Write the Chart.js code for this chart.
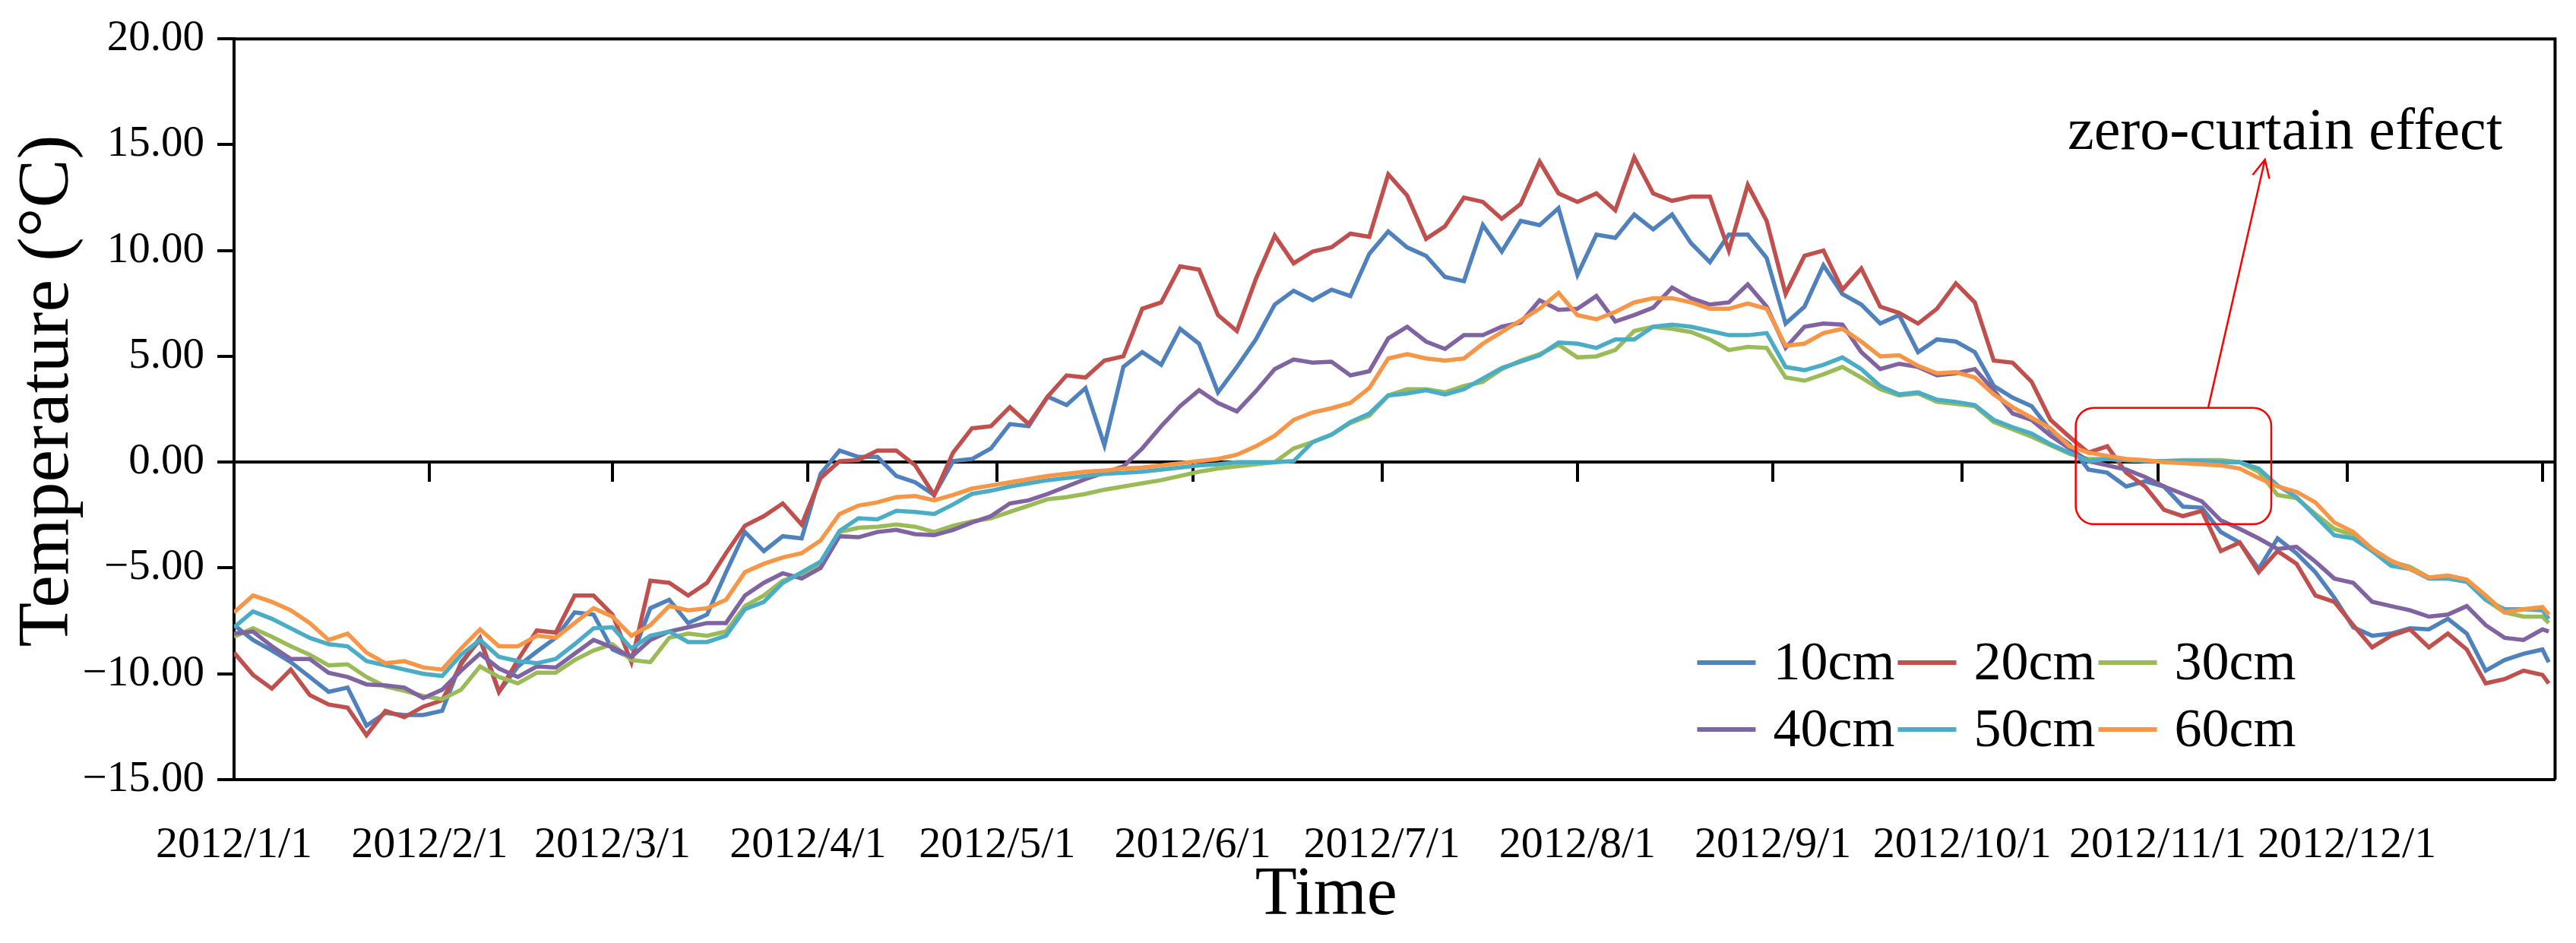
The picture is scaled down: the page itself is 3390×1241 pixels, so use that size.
<!DOCTYPE html>
<html>
<head>
<meta charset="utf-8">
<script src="https://cdn.jsdelivr.net/npm/chart.js@4.4.1/dist/chart.umd.min.js"></script>
<style>
  body { margin: 0; background: #fff; }
  canvas { display: block; }
</style>
</head>
<body>
<canvas id="chartCanvas" width="3390" height="1241"></canvas>
<script>
// day offsets from 2012/1/1 (sampled every 3 days)
const days = [
  0, 3, 6, 9, 12, 15, 18, 21, 24, 27, 30, 33, 36, 39, 42, 45, 48, 51, 54, 57, 60, 63, 66, 69, 72,
  75, 78, 81, 84, 87, 90, 93, 96, 99, 102, 105, 108, 111, 114, 117, 120, 123, 126, 129, 132, 135, 138, 141, 144,
  147, 150, 153, 156, 159, 162, 165, 168, 171, 174, 177, 180, 183, 186, 189, 192, 195, 198, 201, 204, 207, 210, 213, 216, 219,
  222, 225, 228, 231, 234, 237, 240, 243, 246, 249, 252, 255, 258, 261, 264, 267, 270, 273, 276, 279, 282, 285, 288, 291,
  294, 297, 300, 303, 306, 309, 312, 315, 318, 321, 324, 327, 330, 333, 336, 339, 342, 345, 348, 351, 354, 357, 360, 363, 366, 367
];

const t10cm = [
  -7.7, -8.4, -8.9, -9.45, -10.15, -10.85, -10.65, -12.45, -11.85, -11.95, -11.95, -11.75, -9.45, -8.4, -10.85, -9.65, -8.95, -8.3, -7.1, -7.2, -8.85, -9.25, -6.9, -6.5, -7.6,
  -7.2, -5.2, -3.3, -4.2, -3.5, -3.6, -0.55, 0.55, 0.25, 0.25, -0.65, -0.95, -1.55, 0.05, 0.15, 0.65, 1.8, 1.7, 3.1, 2.7, 3.5, 0.8, 4.5, 5.2,
  4.6, 6.3, 5.6, 3.3, 4.5, 5.8, 7.45, 8.1, 7.65, 8.15, 7.85, 9.85, 10.9, 10.15, 9.75, 8.75, 8.55, 11.2, 9.95, 11.4, 11.2, 12.0, 8.85, 10.75, 10.6,
  11.7, 11.0, 11.7, 10.35, 9.45, 10.75, 10.75, 9.65, 6.55, 7.35, 9.3, 7.95, 7.45, 6.55, 6.95, 5.2, 5.8, 5.7, 5.2, 3.6, 3.05, 2.65, 1.5, 0.85,
  -0.35, -0.5, -1.15, -0.9, -1.15, -2.1, -2.15, -3.3, -3.8, -5.05, -3.6, -4.3, -5.2, -6.4, -7.8, -8.2, -8.1, -7.85, -7.9, -7.4, -8.1, -9.85, -9.35, -9.05, -8.85, -9.45
];
const t20cm = [
  -9.0, -10.05, -10.7, -9.8, -11.0, -11.45, -11.6, -12.9, -11.75, -12.05, -11.55, -11.25, -9.55, -8.3, -10.85, -9.35, -7.95, -8.05, -6.3, -6.3, -7.2, -9.45, -5.6, -5.7, -6.3,
  -5.7, -4.3, -3.0, -2.55, -1.95, -2.95, -0.75, 0.05, 0.1, 0.55, 0.55, -0.15, -1.55, 0.45, 1.6, 1.7, 2.6, 1.8, 3.1, 4.1, 4.0, 4.8, 5.0, 7.25,
  7.55, 9.25, 9.1, 6.95, 6.2, 8.65, 10.7, 9.4, 9.95, 10.15, 10.8, 10.65, 13.6, 12.6, 10.55, 11.15, 12.5, 12.3, 11.5, 12.2, 14.2, 12.7, 12.3, 12.7, 11.9,
  14.4, 12.7, 12.35, 12.55, 12.55, 10.0, 13.1, 11.4, 7.95, 9.75, 10.0, 8.15, 9.15, 7.35, 7.05, 6.55, 7.25, 8.45, 7.55, 4.8, 4.7, 3.8, 2.0, 1.2,
  0.45, 0.75, -0.5, -1.15, -2.25, -2.55, -2.3, -4.2, -3.8, -5.2, -4.2, -4.8, -6.3, -6.6, -7.7, -8.75, -8.2, -7.9, -8.75, -8.1, -8.85, -10.45, -10.25, -9.85, -10.05, -10.45
];
const t30cm = [
  -8.25, -7.85, -8.25, -8.7, -9.1, -9.6, -9.55, -10.15, -10.6, -10.8, -11.05, -11.2, -10.75, -9.65, -10.15, -10.45, -9.95, -9.95, -9.35, -8.9, -8.6, -9.35, -9.45, -8.3, -8.1,
  -8.2, -8.0, -6.8, -6.3, -5.6, -5.3, -4.9, -3.3, -3.1, -3.05, -2.95, -3.05, -3.3, -3.0, -2.8, -2.65, -2.35, -2.05, -1.75, -1.65, -1.5, -1.3, -1.15, -1.0,
  -0.85, -0.65, -0.45, -0.3, -0.2, -0.1, 0.0, 0.65, 0.95, 1.3, 1.85, 2.2, 3.15, 3.45, 3.45, 3.3, 3.6, 3.8, 4.4, 4.8, 5.1, 5.55, 4.95, 5.0, 5.3,
  6.2, 6.4, 6.3, 6.15, 5.8, 5.3, 5.45, 5.4, 4.0, 3.85, 4.15, 4.5, 4.0, 3.45, 3.15, 3.25, 2.85, 2.75, 2.65, 1.9, 1.55, 1.2, 0.8, 0.4,
  0.15, 0.15, 0.1, 0.05, 0.05, 0.1, 0.1, 0.1, 0.0, -0.45, -1.55, -1.7, -2.45, -3.15, -3.45, -4.1, -4.7, -4.95, -5.45, -5.5, -5.65, -6.5, -7.1, -7.3, -7.3, -7.6
];
const t40cm = [
  -8.1, -8.0, -8.7, -9.3, -9.3, -9.95, -10.15, -10.5, -10.55, -10.65, -11.15, -10.75, -9.85, -9.05, -9.75, -10.15, -9.65, -9.7, -9.05, -8.4, -8.75, -9.2, -8.4, -8.0, -7.8,
  -7.6, -7.6, -6.3, -5.7, -5.25, -5.5, -5.0, -3.5, -3.55, -3.3, -3.2, -3.4, -3.45, -3.2, -2.85, -2.55, -1.95, -1.8, -1.5, -1.15, -0.8, -0.5, -0.2, 0.65,
  1.7, 2.65, 3.4, 2.8, 2.4, 3.35, 4.4, 4.85, 4.7, 4.75, 4.1, 4.3, 5.85, 6.4, 5.7, 5.35, 6.0, 6.0, 6.4, 6.6, 7.65, 7.2, 7.25, 7.85, 6.65,
  6.95, 7.3, 8.25, 7.75, 7.45, 7.55, 8.4, 7.35, 5.4, 6.4, 6.55, 6.5, 5.2, 4.4, 4.65, 4.5, 4.1, 4.2, 4.4, 3.4, 2.3, 2.0, 1.25, 0.65,
  0.05, -0.15, -0.35, -0.7, -1.15, -1.5, -1.85, -2.75, -3.15, -3.6, -4.1, -4.0, -4.7, -5.5, -5.7, -6.6, -6.8, -7.0, -7.3, -7.2, -6.8, -7.7, -8.3, -8.4, -7.9, -8.0
];
const t50cm = [
  -7.8, -7.05, -7.4, -7.85, -8.3, -8.6, -8.7, -9.4, -9.6, -9.8, -10.0, -10.1, -9.1, -8.4, -9.2, -9.4, -9.5, -9.3, -8.6, -7.85, -7.8, -8.8, -8.2, -8.0, -8.5,
  -8.5, -8.2, -6.95, -6.6, -5.7, -5.2, -4.7, -3.25, -2.65, -2.7, -2.3, -2.35, -2.45, -2.0, -1.5, -1.35, -1.15, -1.0, -0.85, -0.75, -0.65, -0.55, -0.5, -0.45,
  -0.35, -0.25, -0.15, -0.1, 0.0, 0.0, 0.0, 0.05, 0.95, 1.3, 1.9, 2.3, 3.15, 3.25, 3.4, 3.2, 3.45, 3.95, 4.45, 4.75, 5.05, 5.65, 5.6, 5.4, 5.8,
  5.8, 6.4, 6.5, 6.4, 6.2, 6.0, 6.0, 6.1, 4.5, 4.35, 4.6, 4.95, 4.4, 3.6, 3.2, 3.3, 2.95, 2.85, 2.7, 2.0, 1.65, 1.35, 0.85, 0.45,
  0.05, 0.15, 0.1, 0.05, 0.05, 0.05, 0.05, 0.0, 0.0, -0.3, -1.1, -1.65, -2.55, -3.45, -3.6, -4.2, -4.9, -5.05, -5.5, -5.5, -5.65, -6.5, -6.95, -6.95, -7.0, -7.4
];
const t60cm = [
  -7.1, -6.3, -6.6, -7.0, -7.6, -8.4, -8.1, -9.0, -9.5, -9.4, -9.7, -9.8, -8.8, -7.9, -8.7, -8.7, -8.2, -8.3, -7.6, -6.9, -7.3, -8.2, -7.7, -6.8, -7.0,
  -6.9, -6.5, -5.2, -4.8, -4.5, -4.3, -3.7, -2.45, -2.05, -1.9, -1.65, -1.6, -1.8, -1.55, -1.25, -1.1, -0.95, -0.8, -0.65, -0.55, -0.45, -0.4, -0.3, -0.25,
  -0.15, -0.05, 0.05, 0.15, 0.35, 0.75, 1.25, 2.0, 2.35, 2.55, 2.8, 3.5, 4.9, 5.1, 4.9, 4.8, 4.9, 5.6, 6.15, 6.7, 7.25, 8.0, 6.95, 6.75, 7.1,
  7.55, 7.75, 7.75, 7.55, 7.25, 7.25, 7.5, 7.25, 5.5, 5.6, 6.1, 6.3, 5.7, 5.0, 5.05, 4.55, 4.2, 4.25, 4.0, 3.2, 2.6, 2.1, 1.6, 0.75,
  0.45, 0.3, 0.15, 0.1, 0.0, -0.05, -0.1, -0.15, -0.3, -0.75, -1.15, -1.4, -1.9, -2.85, -3.3, -4.1, -4.65, -5.05, -5.45, -5.35, -5.55, -6.3, -7.1, -6.95, -6.85, -7.2
];

const seriesNames = ["10cm", "20cm", "30cm", "40cm", "50cm", "60cm"];
const seriesValues = [t10cm, t20cm, t30cm, t40cm, t50cm, t60cm];
const seriesColors = ["#4F81BD", "#C0504D", "#9BBB59", "#8064A2", "#4BACC6", "#F79646"];

// x ticks: first day of each month (day offsets) and their labels
const monthTicks = [0, 31, 60, 91, 121, 152, 182, 213, 244, 274, 305, 335, 366];
const monthLabels = [
  "2012/1/1", "2012/2/1", "2012/3/1", "2012/4/1", "2012/5/1", "2012/6/1",
  "2012/7/1", "2012/8/1", "2012/9/1", "2012/10/1", "2012/11/1", "2012/12/1", ""
];

// zero-curtain box (data coords)
const curtainBox = { x0: 292, x1: 323, y0: -2.93, y1: 2.57 };
const curtainArrow = { x0: 313, y0: 2.57, x1: 322, y1: 14.3 };
const curtainText = { x: 325.2, y: 14.8, text: "zero-curtain effect" };

const FONT = "'Liberation Serif', 'Times New Roman', serif";
Chart.defaults.font.family = FONT;
Chart.defaults.color = "#000";

const setMonthTicks = (scale) => {
  scale.ticks = monthTicks.map((v) => ({ value: v }));
};

// red box, arrow and label
const curtainPlugin = {
  id: "curtain",
  afterDatasetsDraw(chart) {
    const { ctx, scales } = chart;
    const x = scales.x, y = scales.y;
    const left = x.getPixelForValue(curtainBox.x0);
    const right = x.getPixelForValue(curtainBox.x1);
    const top = y.getPixelForValue(curtainBox.y1);
    const bottom = y.getPixelForValue(curtainBox.y0);
    const r = 24;
    ctx.save();
    ctx.strokeStyle = "#FF0000";
    ctx.lineWidth = 2.5;
    ctx.beginPath();
    ctx.moveTo(left + r, top);
    ctx.arcTo(right, top, right, bottom, r);
    ctx.arcTo(right, bottom, left, bottom, r);
    ctx.arcTo(left, bottom, left, top, r);
    ctx.arcTo(left, top, right, top, r);
    ctx.closePath();
    ctx.stroke();

    const ax0 = x.getPixelForValue(curtainArrow.x0);
    const ay0 = y.getPixelForValue(curtainArrow.y0);
    const ax1 = x.getPixelForValue(curtainArrow.x1);
    const ay1 = y.getPixelForValue(curtainArrow.y1);
    ctx.beginPath();
    ctx.moveTo(ax0, ay0);
    ctx.lineTo(ax1, ay1);
    const ang = Math.atan2(ay1 - ay0, ax1 - ax0);
    const head = 26;
    ctx.moveTo(ax1 - head * Math.cos(ang - 0.45), ay1 - head * Math.sin(ang - 0.45));
    ctx.lineTo(ax1, ay1);
    ctx.lineTo(ax1 - head * Math.cos(ang + 0.45), ay1 - head * Math.sin(ang + 0.45));
    ctx.stroke();

    ctx.fillStyle = "#000";
    ctx.font = "78px " + FONT;
    ctx.textAlign = "center";
    ctx.textBaseline = "alphabetic";
    ctx.fillText(curtainText.text, x.getPixelForValue(curtainText.x), y.getPixelForValue(curtainText.y));
    ctx.restore();
  },
};

// legend inside the plot (2 rows x 3 columns) and the top/right frame
const framePlugin = {
  id: "frame",
  afterDraw(chart) {
    const { ctx, chartArea } = chart;
    ctx.save();
    ctx.strokeStyle = "#000";
    ctx.lineWidth = 4;
    ctx.beginPath();
    ctx.moveTo(chartArea.left, chartArea.top);
    ctx.lineTo(chartArea.right, chartArea.top);
    ctx.lineTo(chartArea.right, chartArea.bottom);
    ctx.stroke();

    const legLeft = chartArea.right - 1129;
    const rows = [chartArea.bottom - 154, chartArea.bottom - 66];
    ctx.font = "72px " + FONT;
    ctx.textBaseline = "middle";
    ctx.textAlign = "left";
    chart.data.datasets.forEach((ds, i) => {
      const col = i % 3;
      const row = Math.floor(i / 3);
      const lx = legLeft + col * 264;
      const ly = rows[row];
      ctx.strokeStyle = ds.borderColor;
      ctx.lineWidth = 6;
      ctx.beginPath();
      ctx.moveTo(lx, ly);
      ctx.lineTo(lx + 77, ly);
      ctx.stroke();
      ctx.fillStyle = "#000";
      ctx.fillText(ds.label, lx + 100, ly + 3);
    });
    ctx.restore();
  },
};

const ctx = document.getElementById("chartCanvas").getContext("2d");

const chart = new Chart(ctx, {
  type: "line",
  data: {
    datasets: seriesNames.map((name, i) => ({
      label: name,
      data: days.map((d, j) => ({ x: d, y: seriesValues[i][j] })),
      borderColor: seriesColors[i],
      backgroundColor: seriesColors[i],
      borderWidth: 5.5,
      pointRadius: 0,
      tension: 0,
      fill: false,
      order: 6 - i,
    })),
  },
  options: {
    responsive: false,
    animation: false,
    layout: { padding: { top: 46, right: 27, left: 0, bottom: 0 } },
    plugins: {
      legend: { display: false },
      tooltip: { enabled: false },
    },
    scales: {
      x: {
        type: "linear",
        position: "bottom",
        min: 0,
        max: 368,
        afterBuildTicks: setMonthTicks,
        afterFit: (s) => { s.height = 215; },
        ticks: {
          autoSkip: false,
          maxRotation: 0,
          minRotation: 0,
          padding: 44,
          font: { size: 58 },
          callback: (v, i) => monthLabels[i],
        },
        grid: { display: false },
        border: { display: true, color: "#000", width: 4 },
        title: {
          display: true,
          text: "Time        ",
          font: { size: 90 },
          padding: { top: 0, bottom: 8 },
        },
      },
      xzero: {
        type: "linear",
        axis: "x",
        position: { y: 0 },
        min: 0,
        max: 368,
        afterBuildTicks: setMonthTicks,
        afterFit: (s) => { s.height = 0; },
        ticks: { display: false },
        grid: { drawOnChartArea: false, drawTicks: true, tickLength: 24, color: "#000", lineWidth: 4 },
        border: { display: true, color: "#000", width: 4 },
      },
      y: {
        min: -15,
        max: 20,
        afterFit: (s) => { s.width = 308; },
        ticks: {
          stepSize: 5,
          padding: 17,
          font: { size: 57 },
          callback: (v) => v.toFixed(2).replace("-", "\u2212"),
        },
        grid: { drawOnChartArea: false, drawTicks: true, tickLength: 22, color: "#000", lineWidth: 4 },
        border: { display: true, color: "#000", width: 4 },
        title: {
          display: true,
          text: "  Temperature (\u00B0C)",
          font: { size: 96 },
          padding: { top: 6, bottom: 0 },
        },
      },
    },
  },
  plugins: [curtainPlugin, framePlugin],
});
</script>
</body>
</html>
